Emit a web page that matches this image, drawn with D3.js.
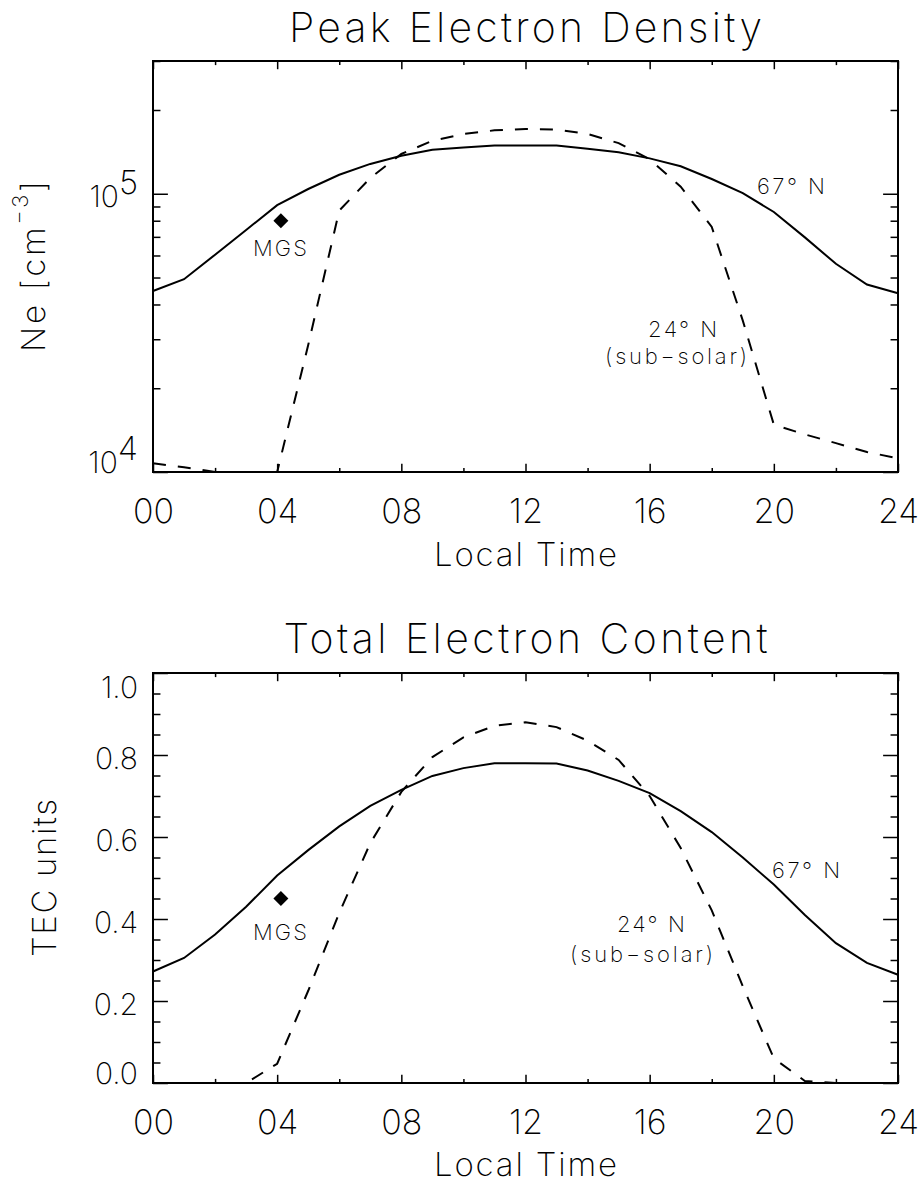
<!DOCTYPE html>
<html>
<head>
<meta charset="utf-8">
<script src="https://cdn.jsdelivr.net/npm/d3@7"></script>
<style>
  body { margin: 0; background: #fff; }
  svg text { font-family: Inter, "DejaVu Sans", sans-serif; font-weight: 200; fill: #000; }
</style>
</head>
<body>
<div id="chart"></div>
<script>
// local time (hours)
const hours = [0, 1, 2, 3, 4, 5, 6, 7, 8, 9, 10, 11, 12, 13, 14, 15, 16, 17, 18, 19, 20, 21, 22, 23, 24];

// peak electron density [cm^-3]
const ne67 = [4.47e4, 4.93e4, 6.04e4, 7.41e4, 9.1e4, 1.04e5, 1.17e5, 1.28e5, 1.37e5, 1.44e5, 1.465e5, 1.49e5, 1.49e5,
              1.49e5, 1.45e5, 1.41e5, 1.34e5, 1.256e5, 1.13e5, 1.005e5, 8.6e4, 6.97e4, 5.6e4, 4.72e4, 4.39e4];
const ne24 = [1.075e4, 1.04e4, 1.0e4, 9.0e3, 1.0e4, 2.86e4, 8.7e4, 1.14e5, 1.39e5, 1.55e5, 1.64e5, 1.69e5, 1.71e5,
              1.70e5, 1.64e5, 1.52e5, 1.33e5, 1.06e5, 7.6e4, 3.5e4, 1.48e4, 1.365e4, 1.27e4, 1.18e4, 1.12e4];

// total electron content [TEC units]
const tec67 = [0.272, 0.305, 0.362, 0.43, 0.506, 0.568, 0.626, 0.676, 0.715, 0.749, 0.768, 0.780, 0.780,
               0.779, 0.762, 0.737, 0.707, 0.663, 0.612, 0.55, 0.484, 0.41, 0.341, 0.293, 0.264];
const tec24 = [0, 0, 0, 0, 0.047, 0.225, 0.415, 0.585, 0.71, 0.795, 0.843, 0.871, 0.880,
               0.868, 0.835, 0.788, 0.70, 0.573, 0.421, 0.236, 0.06, 0.005, 0, 0, 0];

// MGS measurement
const mgsHour = 4.12;
const mgsNe = 8.0e4;
const mgsTec = 0.45;

// ticks
const xMajor = [0, 4, 8, 12, 16, 20, 24];
const xMinor = [2, 6, 10, 14, 18, 22];
const xLabels = ["00", "04", "08", "12", "16", "20", "24"];
const neMajor = [1e4, 1e5];
const neMinor = [2e4, 3e4, 4e4, 5e4, 6e4, 7e4, 8e4, 9e4, 2e5, 3e5];
const tecMajor = [0, 0.2, 0.4, 0.6, 0.8, 1.0];
const tecMinor = [0.05, 0.1, 0.15, 0.25, 0.3, 0.35, 0.45, 0.5, 0.55, 0.65, 0.7, 0.75, 0.85, 0.9, 0.95];

const W = 922, H = 1183;
const left = 153, right = 898;

const svg = d3.select("#chart").append("svg")
  .attr("width", W)
  .attr("height", H);

function drawPanel(cfg) {
  const g = svg.append("g");
  const x = d3.scaleLinear().domain([0, 24]).range([left, right]);
  const y = cfg.y;
  const yTop = cfg.top, yBot = cfg.bottom;
  const plotW = right - left, plotH = yBot - yTop;
  const xTick = plotH * 0.02, yTick = plotW * 0.02;

  // title
  g.append("text")
    .attr("x", (left + right) / 2)
    .attr("y", cfg.titleY)
    .attr("text-anchor", "middle")
    .attr("font-size", 41)
    .attr("textLength", cfg.titleLen)
    .attr("lengthAdjust", "spacing")
    .text(cfg.title);

  // clip for the curves (a bit wider so lines on the frame stay visible)
  g.append("clipPath").attr("id", cfg.id + "-clip")
    .append("rect")
    .attr("x", left - 1).attr("y", yTop - 1)
    .attr("width", plotW + 2).attr("height", plotH + 2);

  const line = d3.line()
    .x((d, i) => x(hours[i]))
    .y(d => y(d));

  g.append("path")
    .datum(cfg.solid)
    .attr("clip-path", "url(#" + cfg.id + "-clip)")
    .attr("d", line)
    .attr("fill", "none")
    .attr("stroke", "#000")
    .attr("stroke-width", 2);

  g.append("path")
    .datum(cfg.dashed)
    .attr("clip-path", "url(#" + cfg.id + "-clip)")
    .attr("d", line)
    .attr("fill", "none")
    .attr("stroke", "#000")
    .attr("stroke-width", 2)
    .attr("stroke-dasharray", "13,12");

  // x axes (bottom and top), ticks point inward
  const xb = g.append("g").attr("transform", "translate(0," + yBot + ")")
    .call(d3.axisBottom(x).tickValues(xMajor).tickSize(-xTick).tickPadding(27)
      .tickFormat((d, i) => xLabels[i]));
  g.append("g").attr("transform", "translate(0," + yBot + ")")
    .call(d3.axisBottom(x).tickValues(xMinor).tickSize(-xTick / 2).tickFormat(""));
  g.append("g").attr("transform", "translate(0," + yTop + ")")
    .call(d3.axisTop(x).tickValues(xMajor).tickSize(-xTick).tickFormat(""));
  g.append("g").attr("transform", "translate(0," + yTop + ")")
    .call(d3.axisTop(x).tickValues(xMinor).tickSize(-xTick / 2).tickFormat(""));
  xb.selectAll("text").attr("font-size", 34);

  // y axes (left and right)
  const yl = g.append("g").attr("transform", "translate(" + left + ",0)")
    .call(d3.axisLeft(y).tickValues(cfg.yMajor).tickSize(-yTick).tickPadding(15));
  g.append("g").attr("transform", "translate(" + left + ",0)")
    .call(d3.axisLeft(y).tickValues(cfg.yMinor).tickSize(-yTick / 2).tickFormat(""));
  g.append("g").attr("transform", "translate(" + right + ",0)")
    .call(d3.axisRight(y).tickValues(cfg.yMajor).tickSize(-yTick).tickFormat(""));
  g.append("g").attr("transform", "translate(" + right + ",0)")
    .call(d3.axisRight(y).tickValues(cfg.yMinor).tickSize(-yTick / 2).tickFormat(""));

  const dom = y.domain();
  yl.selectAll("text")
    .attr("font-size", 30)
    .attr("dy", null)
    .attr("y", d => d === dom[0] ? 0 : (d === dom[1] ? 24 : 13));
  if (cfg.logLabels) {
    yl.selectAll("text").each(function(d) {
      const t = d3.select(this);
      const exp = Math.round(Math.log10(d));
      t.text(null);
      t.append("tspan").text("10");
      t.append("tspan").attr("dy", -13).attr("font-size", 33).text(exp);
    });
  }

  svg.selectAll(".domain").remove();
  g.selectAll(".tick line").attr("stroke", "#000").attr("stroke-width", 1.5);

  // frame
  g.append("rect")
    .attr("x", left).attr("y", yTop)
    .attr("width", plotW).attr("height", plotH)
    .attr("fill", "none")
    .attr("stroke", "#000")
    .attr("stroke-width", 2);

  // axis titles
  g.append("text")
    .attr("x", (left + right) / 2)
    .attr("y", yBot + cfg.xTitleDy)
    .attr("text-anchor", "middle")
    .attr("font-size", 33)
    .attr("textLength", 183)
    .attr("lengthAdjust", "spacing")
    .text("Local Time");

  const yt = g.append("text")
    .attr("transform", "translate(" + cfg.yTitleX + "," + (yTop + yBot) / 2 + ") rotate(-90)")
    .attr("text-anchor", "middle")
    .attr("font-size", 33)
    .attr("textLength", cfg.yTitleLen)
    .attr("lengthAdjust", "spacing");
  cfg.yTitle.forEach(p => {
    const s = yt.append("tspan").text(p.t);
    if (p.sup) s.attr("dy", -17).attr("font-size", 22);
    if (p.down) s.attr("dy", 17);
  });

  // MGS point
  g.append("path")
    .attr("d", d3.symbol(d3.symbolSquare, 112)())
    .attr("transform", "translate(" + x(mgsHour) + "," + y(cfg.mgs) + ") rotate(45)")
    .attr("fill", "#000");

  // annotations
  cfg.notes.forEach(n => {
    g.append("text")
      .attr("x", x(n.h))
      .attr("y", y(n.v))
      .attr("text-anchor", "middle")
      .attr("font-size", 22)
      .attr("textLength", n.len)
      .attr("lengthAdjust", "spacing")
      .text(n.t);
  });
}

drawPanel({
  id: "ne",
  title: "Peak Electron Density",
  titleY: 42, titleLen: 473,
  top: 61, bottom: 472,
  y: d3.scaleLog().domain([1e4, 3e5]).range([472, 61]),
  yMajor: neMajor, yMinor: neMinor, logLabels: true,
  solid: ne67, dashed: ne24, mgs: mgsNe,
  xTitleDy: 94,
  yTitleX: 45, yTitleLen: 171,
  yTitle: [{t: "Ne [cm"}, {t: "\u22123", sup: true}, {t: "]", down: true}],
  notes: [
    {t: "67\u00b0 N", h: 20.55, v: 9.94e4, len: 68},
    {t: "24\u00b0 N", h: 17.06, v: 3.05e4, len: 69},
    {t: "(sub\u2212solar)", h: 16.85, v: 2.45e4, len: 142},
    {t: "MGS", h: 4.09, v: 5.96e4, len: 54}
  ]
});

drawPanel({
  id: "tec",
  title: "Total Electron Content",
  titleY: 653, titleLen: 484,
  top: 673, bottom: 1083,
  y: d3.scaleLinear().domain([0, 1.0]).range([1083, 673]),
  yMajor: tecMajor, yMinor: tecMinor, logLabels: false,
  solid: tec67, dashed: tec24, mgs: mgsTec,
  xTitleDy: 93,
  yTitleX: 56, yTitleLen: 158,
  yTitle: [{t: "TEC units"}],
  notes: [
    {t: "67\u00b0 N", h: 21.04, v: 0.501, len: 68},
    {t: "24\u00b0 N", h: 16.04, v: 0.369, len: 68},
    {t: "(sub\u2212solar)", h: 15.74, v: 0.296, len: 143},
    {t: "MGS", h: 4.09, v: 0.35, len: 54}
  ]
});
</script>
</body>
</html>
